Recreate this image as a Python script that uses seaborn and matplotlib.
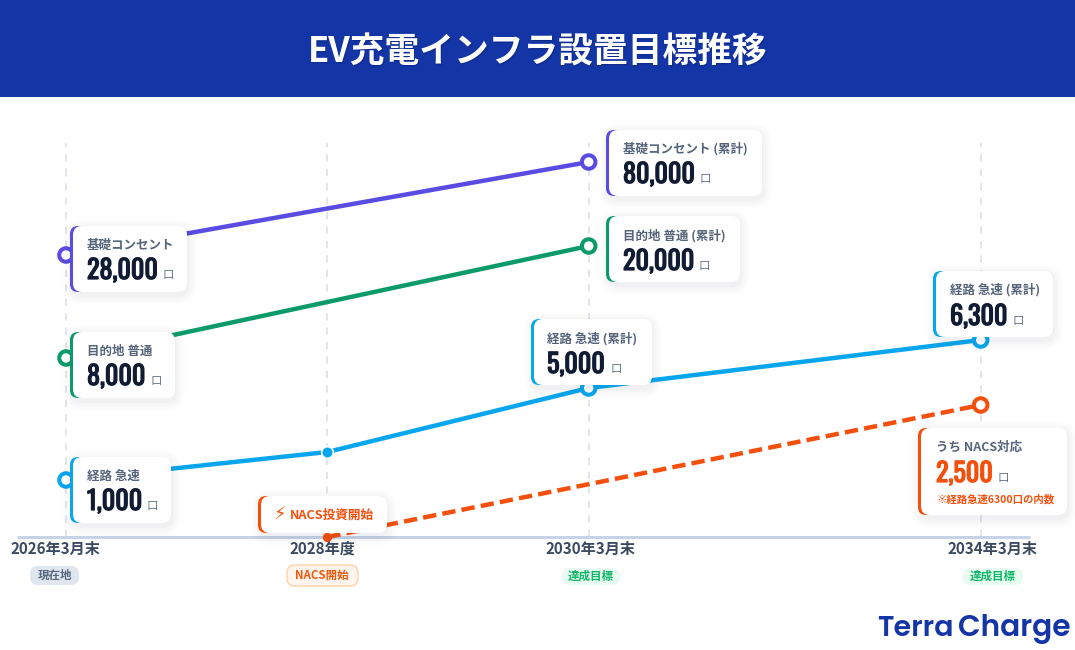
import pandas as pd
import seaborn as sns
import matplotlib.pyplot as plt
import matplotlib.patheffects as pe
from matplotlib.patches import FancyBboxPatch, Rectangle

# x runs on a schematic time axis, y has no shared value scale in the picture
x_labels = ['2026年3月末', '2028年度', '2030年3月末', '2034年3月末']
x_steps = [0, 2, 4, 7]

# plotted height above the baseline
kiso_steps = [0, 4]
kiso_height = [282, 375]
mokuteki_steps = [0, 4]
mokuteki_height = [179, 291]
keiro_steps = [0, 2, 4, 7]
keiro_height = [57, 85, 149, 197]
nacs_steps = [2, 7]
nacs_height = [0, 132]

badge_labels = ['現在地', 'NACS開始', '達成目標', '達成目標']

card_labels = ['基礎コンセント', '目的地 普通', '経路 急速', '基礎コンセント (累計)',
               '目的地 普通 (累計)', '経路 急速 (累計)', '経路 急速 (累計)', 'うち NACS対応']
card_values = ['28,000', '8,000', '1,000', '80,000', '20,000', '5,000', '6,300', '2,500']

PURPLE = '#5a4be3'
GREEN = '#0b9b69'
BLUE = '#08a6ee'
ORANGE = '#f4500c'
NAVY = '#1435a5'

sns.set_theme(style='white')
plt.rcParams['font.family'] = ['Noto Sans CJK JP', 'DejaVu Sans']

frames = []
for name, xs, ys in [('kiso', kiso_steps, kiso_height), ('mokuteki', mokuteki_steps, mokuteki_height),
                     ('keiro', keiro_steps, keiro_height), ('nacs', nacs_steps, nacs_height)]:
    frames.append(pd.DataFrame({'step': xs, 'height': ys, 'series': name}))
df = pd.concat(frames, ignore_index=True)
palette = {'kiso': PURPLE, 'mokuteki': GREEN, 'keiro': BLUE, 'nacs': ORANGE}

fig = plt.figure(figsize=(10.75, 6.5), dpi=100, facecolor='white')
ax = fig.add_axes([0, 0, 1, 1])

ax.vlines(x_steps, 0, 394, color='#dfe3ea', lw=1.3, linestyles=(0, (4, 4)), zorder=1)
ax.hlines(0, -49 / 130.67, (1030 - 66) / 130.67, color='#c6d3e7', lw=2.2, zorder=1.5)

sns.lineplot(data=df, x='step', y='height', hue='series', style='series', palette=palette,
             dashes={'kiso': (1, 0), 'mokuteki': (1, 0), 'keiro': (1, 0), 'nacs': (3, 1.4)},
             errorbar=None, linewidth=3.2, legend=False, ax=ax, zorder=2)

# ring markers at the milestone points, small solid ones in between
rings = df[~((df.series == 'keiro') & (df.step == 2)) & ~((df.series == 'nacs') & (df.step == 2))]
sns.scatterplot(data=rings, x='step', y='height', hue='series', palette=palette, s=95, legend=False,
                ax=ax, zorder=3, linewidth=2.9)
ring_marks = ax.collections[-1]
ring_marks.set_edgecolor([palette[s] for s in rings.series])
ring_marks.set_facecolor('white')
sns.scatterplot(x=[keiro_steps[1]], y=[keiro_height[1]], color=BLUE, s=70, edgecolor='white', linewidth=1.2,
                legend=False, ax=ax, zorder=3)
sns.scatterplot(x=[nacs_steps[0]], y=[nacs_height[0]], color=ORANGE, s=45, linewidth=0, legend=False, ax=ax, zorder=3)
ax.set_xlim(-66 / 130.67, (1075 - 66) / 130.67)
ax.set_ylim(-113, 537)
ax.axis('off')

# overlay in picture pixels for the header, cards and badges
ov = fig.add_axes([0, 0, 1, 1], zorder=5)
ov.set_xlim(0, 1075)
ov.set_ylim(650, 0)
ov.axis('off')
ov.patch.set_alpha(0)

ov.add_patch(Rectangle((0, 0), 1075, 97, color=NAVY, lw=0))
for off, a in [(3, 0.10), (2, 0.13), (1, 0.18)]:
    ov.text(538 + off * 0.4, 52 + off * 0.6, 'EV充電インフラ設置目標推移', color='#0a1c66', alpha=a, fontsize=25,
            fontweight='bold', ha='center', va='center')
ov.text(538, 52, 'EV充電インフラ設置目標推移', color='white', fontsize=25, fontweight='bold',
        ha='center', va='center')

NUM_FONT = ['Oswald', 'Barlow Condensed', 'Liberation Sans Narrow', 'DejaVu Sans']
LOGO_FONT = ['Poppins', 'Inter', 'DejaVu Sans']


def rbox(x0, y0, x1, y1, r, **kw):
    p = FancyBboxPatch((x0, y0), x1 - x0, y1 - y0, boxstyle=f'round,pad=0,rounding_size={r}', **kw)
    ov.add_patch(p)
    return p


def card(x0, y0, x1, y1, color):
    # soft shadow, a stack of faint boxes
    for grow, a in [(10, 0.007), (8, 0.008), (6, 0.010), (4, 0.012), (2, 0.014)]:
        rbox(x0 + 3 - grow, y0 - grow + 3, x1 + grow, y1 + grow + 3, 9 + grow, fc='#1e2d50', ec='none', alpha=a)
    rbox(x0, y0, x0 + 20, y1, 8, fc=color, ec='none')
    rbox(x0 + 3, y0, x1, y1, 9, fc='white', ec='none')


def value_card(box, color, label, value, tx, label_y, num_y, unit_x, num_color='#111b33'):
    card(*box, color)
    ov.text(tx, label_y, label, color='#55647a', fontsize=9.0, fontweight='bold', ha='left', va='center')
    # the condensed face only comes in one weight here, thicken it with a stroke
    num = ov.text(tx, num_y + 2, value, color=num_color, family=NUM_FONT, fontsize=18.8, ha='left', va='center')
    num.set_path_effects([pe.withStroke(linewidth=0.9, foreground=num_color)])
    ov.text(unit_x, num_y + 6, '口', color='#667385', fontsize=8.2, ha='center', va='center')


value_card((70, 226, 187, 292), PURPLE, card_labels[0], card_values[0], 87, 245, 269, 168)
value_card((70, 332, 175, 398), GREEN, card_labels[1], card_values[1], 87, 351, 375, 156)
value_card((70, 457, 171, 523), BLUE, card_labels[2], card_values[2], 87, 476, 500, 152)
value_card((606, 130, 762, 196), PURPLE, card_labels[3], card_values[3], 623, 149, 173, 705)
value_card((606, 216, 740, 282), GREEN, card_labels[4], card_values[4], 623, 236, 260, 704)
value_card((531, 319, 652, 385), BLUE, card_labels[5], card_values[5], 547, 339, 363, 616)
value_card((933, 271, 1053, 337), BLUE, card_labels[6], card_values[6], 950, 290, 315, 1018)
value_card((918, 428, 1067, 515), ORANGE, card_labels[7], card_values[7], 936, 447, 472, 1003, num_color=ORANGE)
ov.text(936, 499, '※経路急速6300口の内数', color=ORANGE, fontsize=7.5, fontweight='bold', ha='left', va='center')

card(258, 496, 387, 533, ORANGE)
ov.text(280, 515, '⚡', color=ORANGE, family=['DejaVu Sans'], fontsize=13, ha='center', va='center')
ov.text(290, 515, 'NACS投資開始', color=ORANGE, fontsize=9.1, fontweight='bold', ha='left', va='center')

# axis labels sit slightly off the gridlines in the original
for cx, lab in zip([55, 322, 590, 992], x_labels):
    ov.text(cx, 549, lab, color='#3a4a60', fontsize=10.9, fontweight='bold', ha='center', va='center')

badges = [(30, 79, 566, 585, '#dfe6f0', 'none', '#56667c', 55),
          (287, 358, 565, 586, '#fff5ec', '#fbd2a8', '#ef5a10', 322),
          (562, 620, 568, 585, '#e8fbf1', 'none', '#0fb768', 591),
          (963, 1023, 568, 585, '#e8fbf1', 'none', '#0fb768', 993)]
for (x0, x1, y0, y1, fc, ec, tc, cx), lab in zip(badges, badge_labels):
    rbox(x0, y0, x1, y1, 8, fc=fc, ec=ec, lw=1)
    ov.text(cx, (y0 + y1) / 2, lab, color=tc, fontsize=8.3, fontweight='bold', ha='center', va='center')

ov.text(877, 629, 'Terra', color=NAVY, family=LOGO_FONT, fontsize=20.5, fontweight='semibold', ha='left', va='center')
ov.text(1071, 629, 'Charge', color=NAVY, family=LOGO_FONT, fontsize=21.3, fontweight='semibold', ha='right', va='center')

fig.savefig('out.png', dpi=100)
